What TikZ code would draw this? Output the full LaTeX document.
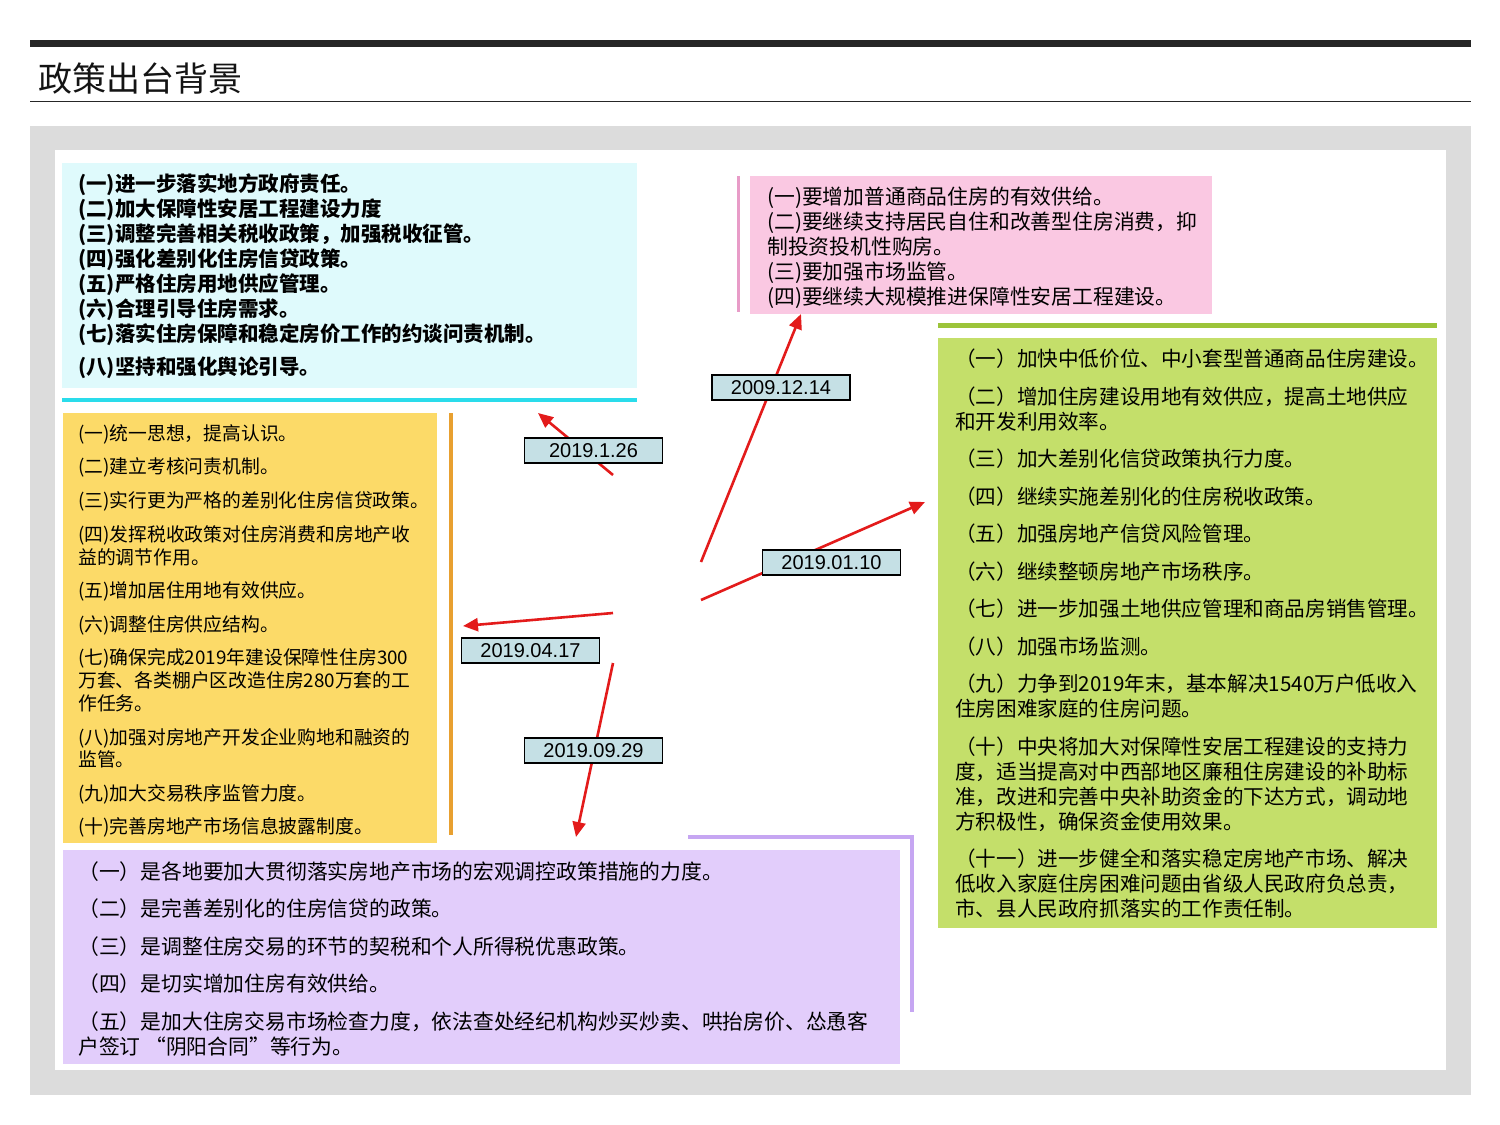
\documentclass[tikz,border=0pt]{standalone}
\usepackage{fontspec}
\setmainfont{Noto Sans CJK SC}
\newfontfamily\arialf{Liberation Sans}
\usetikzlibrary{arrows.meta}
\definecolor{barcol}{HTML}{262626}
\definecolor{graybg}{HTML}{DCDCDC}
\definecolor{cyanfill}{HTML}{DFFAFC}
\definecolor{cyanline}{HTML}{2ADCEB}
\definecolor{pinkfill}{HTML}{FAC8E2}
\definecolor{pinkline}{HTML}{E89CC8}
\definecolor{greenfill}{HTML}{C4DF6A}
\definecolor{greenline}{HTML}{9CC43A}
\definecolor{yellowfill}{HTML}{FCDA68}
\definecolor{orangeline}{HTML}{E8A030}
\definecolor{purplefill}{HTML}{E2CDFB}
\definecolor{purpleline}{HTML}{C6A6F2}
\definecolor{datefill}{HTML}{C5E0E5}
\definecolor{arrowred}{HTML}{E31B1B}
\begin{document}
\begin{tikzpicture}[x=1pt,y=-1pt,
  panel/.style={anchor=north west, inner sep=0pt, outer sep=0pt, draw=none},
  tcyan/.style={anchor=west, inner sep=0pt, font=\fontsize{20.5}{24}\selectfont\bfseries, text height=18pt, text depth=2.5pt},
  tpink/.style={anchor=west, inner sep=0pt, font=\fontsize{20.8}{24}\selectfont, text height=18.3pt, text depth=2.5pt},
  tyel/.style={anchor=west, inner sep=0pt, font=\fontsize{18.8}{22}\selectfont, text height=16.5pt, text depth=2.3pt},
  tgreen/.style={anchor=west, inner sep=0pt, font=\fontsize{20.6}{24}\selectfont, text height=18.1pt, text depth=2.5pt},
  tpurp/.style={anchor=west, inner sep=0pt, font=\fontsize{20.8}{24}\selectfont, text height=18.3pt, text depth=2.5pt},
  datebox/.style={draw=black, line width=1.5pt, fill=datefill, minimum width=138pt, minimum height=25pt, inner sep=0pt, font=\arialf\fontsize{20}{22}\selectfont},
  redarrow/.style={draw=arrowred, line width=2.6pt, -{Triangle[length=15pt,width=13pt]}},
  deco/.style={line cap=butt}
]
\useasboundingbox (0,0) rectangle (1500,1125);
\fill[white] (0,0) rectangle (1500,1125);

% header
\fill[barcol] (30,40) rectangle (1471,46.5);
\node[anchor=west, inner sep=0pt, font=\fontsize{34}{37}\selectfont, text height=30pt, text depth=4pt, text=black!92] (title) at (38,78) {政策出台背景};
\draw[barcol, line width=1.5pt] (30,101.5) -- (1471,101.5);

% background panels
\fill[graybg] (30,126) rectangle (1471,1095);
\fill[white] (55,150) rectangle (1446,1070);

% coloured boxes
\node[panel, fill=cyanfill, minimum width=575pt, minimum height=225pt] (cyanbox) at (62,163) {};
\draw[cyanline, line width=4.5pt, deco] (62,400) -- (637,400);

\node[panel, fill=pinkfill, minimum width=462pt, minimum height=138pt] (pinkbox) at (750,176) {};
\draw[pinkline, line width=3pt, deco] (738,176) -- (738,312);

\node[panel, fill=greenfill, minimum width=499pt, minimum height=590pt] (greenbox) at (938,338) {};
\draw[greenline, line width=5pt, deco] (938,325) -- (1437,325);

\node[panel, fill=yellowfill, minimum width=374pt, minimum height=430pt] (yellowbox) at (63,413) {};
\draw[orangeline, line width=4pt, deco] (451,413) -- (451,835);

\node[panel, fill=purplefill, minimum width=837pt, minimum height=214pt] (purplebox) at (63,850) {};
\draw[purpleline, line width=4pt, line join=miter] (688,837) -- (912,837) -- (912,1012);

% cyan text
\foreach \yy/\txt [count=\i] in {
 184/{(一)进一步落实地方政府责任。},
 209/{(二)加大保障性安居工程建设力度},
 234/{(三)调整完善相关税收政策，加强税收征管。},
 259/{(四)强化差别化住房信贷政策。},
 284/{(五)严格住房用地供应管理。},
 309/{(六)合理引导住房需求。},
 334/{(七)落实住房保障和稳定房价工作的约谈问责机制。},
 367/{(八)坚持和强化舆论引导。}}
 \node[tcyan] (c\i) at (78,\yy) {\txt};

% pink text
\foreach \yy/\txt [count=\i] in {
 197/{(一)要增加普通商品住房的有效供给。},
 222/{(二)要继续支持居民自住和改善型住房消费，抑},
 247/{制投资投机性购房。},
 272/{(三)要加强市场监管。},
 297/{(四)要继续大规模推进保障性安居工程建设。}}
 \node[tpink] (p\i) at (767,\yy) {\txt};

% green text
\foreach \yy/\txt [count=\i] in {
 359/{（一）加快中低价位、中小套型普通商品住房建设。},
 397/{（二）增加住房建设用地有效供应，提高土地供应},
 422/{和开发利用效率。},
 459/{（三）加大差别化信贷政策执行力度。},
 497/{（四）继续实施差别化的住房税收政策。},
 534/{（五）加强房地产信贷风险管理。},
 572/{（六）继续整顿房地产市场秩序。},
 609/{（七）进一步加强土地供应管理和商品房销售管理。},
 647/{（八）加强市场监测。},
 684/{（九）力争到2019年末，基本解决1540万户低收入},
 709/{住房困难家庭的住房问题。},
 747/{（十）中央将加大对保障性安居工程建设的支持力},
 772/{度，适当提高对中西部地区廉租住房建设的补助标},
 797/{准，改进和完善中央补助资金的下达方式，调动地},
 822/{方积极性，确保资金使用效果。},
 859/{（十一）进一步健全和落实稳定房地产市场、解决},
 884/{低收入家庭住房困难问题由省级人民政府负总责，},
 909/{市、县人民政府抓落实的工作责任制。}}
 \node[tgreen] (g\i) at (955,\yy) {\txt};

% yellow text
\foreach \yy/\txt [count=\i] in {
 433/{(一)统一思想，提高认识。},
 466/{(二)建立考核问责机制。},
 500/{(三)实行更为严格的差别化住房信贷政策。},
 534/{(四)发挥税收政策对住房消费和房地产收},
 557/{益的调节作用。},
 590/{(五)增加居住用地有效供应。},
 624/{(六)调整住房供应结构。},
 657/{(七)确保完成2019年建设保障性住房300},
 680/{万套、各类棚户区改造住房280万套的工},
 703/{作任务。},
 737/{(八)加强对房地产开发企业购地和融资的},
 759/{监管。},
 793/{(九)加大交易秩序监管力度。},
 826/{(十)完善房地产市场信息披露制度。}}
 \node[tyel] (y\i) at (78,\yy) {\txt};

% purple text
\foreach \yy/\txt [count=\i] in {
 872/{（一）是各地要加大贯彻落实房地产市场的宏观调控政策措施的力度。},
 909/{（二）是完善差别化的住房信贷的政策。},
 947/{（三）是调整住房交易的环节的契税和个人所得税优惠政策。},
 984/{（四）是切实增加住房有效供给。},
 1022/{（五）是加大住房交易市场检查力度，依法查处经纪机构炒买炒卖、哄抬房价、怂恿客},
 1047/{户签订 “阴阳合同”等行为。}}
 \node[tpurp] (u\i) at (78,\yy) {\txt};

% arrow end points
\coordinate (s1) at (613,475); \coordinate (e1) at (538,413);
\coordinate (s2) at (701,562); \coordinate (e2) at (801,314);
\coordinate (s3) at (701,600); \coordinate (e3) at (925,502);
\coordinate (s4) at (613,613); \coordinate (e4) at (463,626);
\coordinate (s5) at (613,663); \coordinate (e5) at (576,837);
\draw[redarrow] (s1) -- (e1);
\draw[redarrow] (s2) -- (e2);
\draw[redarrow] (s3) -- (e3);
\draw[redarrow] (s4) -- (e4);
\draw[redarrow] (s5) -- (e5);

% date labels
\node[datebox] (d1) at (593.5,450.5) {2019.1.26};
\node[datebox] (d2) at (781,387.5) {2009.12.14};
\node[datebox] (d3) at (831.5,562.5) {2019.01.10};
\node[datebox] (d4) at (530.5,650.5) {2019.04.17};
\node[datebox] (d5) at (593.5,750.5) {2019.09.29};
\end{tikzpicture}
\end{document}
